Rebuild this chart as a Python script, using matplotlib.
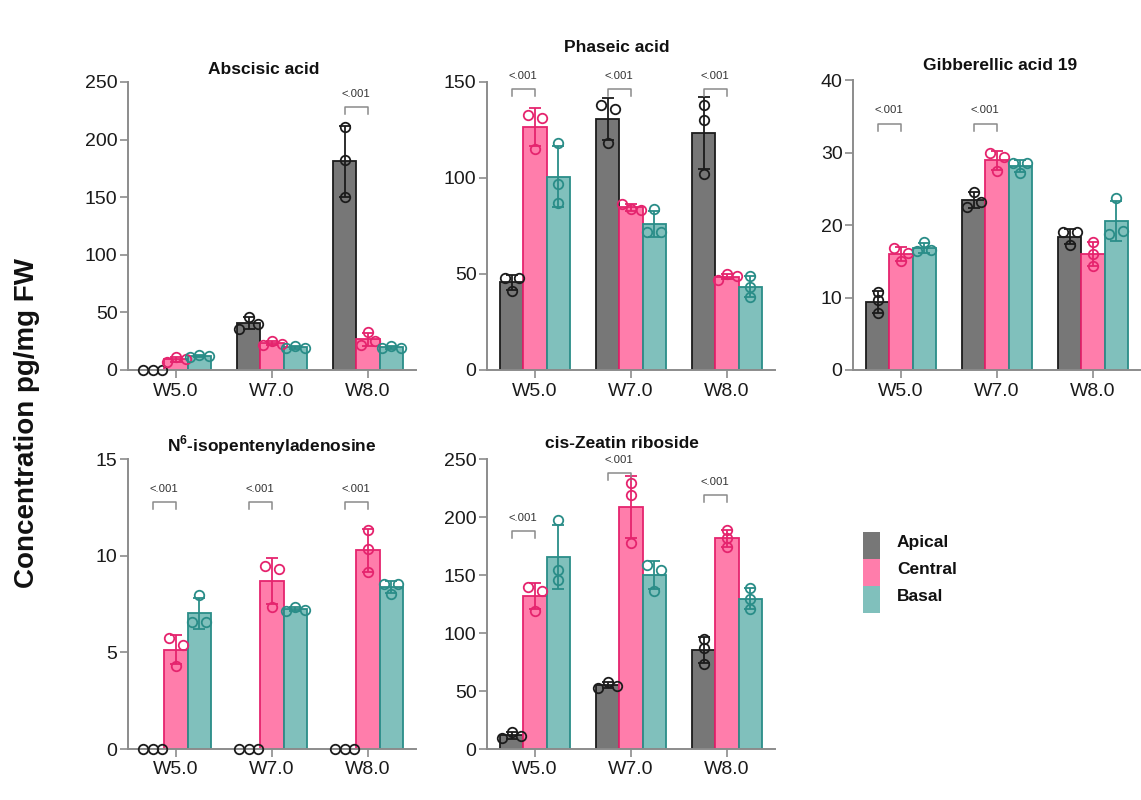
import numpy as np
import matplotlib
matplotlib.use("Agg")
import matplotlib.pyplot as plt
from matplotlib.patches import Rectangle

plt.rcParams["font.family"] = ["Liberation Sans", "DejaVu Sans"]
plt.rcParams["mathtext.fontset"] = "custom"
plt.rcParams["mathtext.rm"] = "Liberation Sans"
plt.rcParams["mathtext.bf"] = "Liberation Sans:bold"

stages = ["W5.0", "W7.0", "W8.0"]
tissues = ["Apical", "Central", "Basal"]

# Replicate concentrations (pg/mg FW): one triplet per stage
aba_apical = [[0, 0, 0], [36, 46, 40], [211, 182, 150]]
aba_central = [[7, 11, 9.5], [22, 25, 23], [22, 33, 25]]
aba_basal = [[11, 13, 12], [19, 21, 19], [19, 21, 19]]

pa_apical = [[48, 41, 48], [138, 118, 136], [138, 130, 102]]
pa_central = [[133, 115, 131], [86.5, 84, 83.5], [47, 50, 49]]
pa_basal = [[118, 97, 87], [72, 84, 72], [49, 43, 38]]

ga19_apical = [[10.8, 9.6, 7.8], [22.5, 24.6, 23.2], [19.0, 17.2, 19.0]]
ga19_central = [[16.8, 15.0, 16.2], [29.9, 27.4, 29.4], [17.7, 16.0, 14.4]]
ga19_basal = [[16.4, 17.6, 16.5], [28.6, 27.2, 28.6], [18.8, 23.7, 19.2]]

ipa_apical = [[0, 0, 0], [0, 0, 0], [0, 0, 0]]
ipa_central = [[5.74, 4.28, 5.4], [9.48, 7.33, 9.3], [11.34, 10.36, 9.14]]
ipa_basal = [[6.55, 7.95, 6.55], [7.15, 7.33, 7.2], [8.55, 8.03, 8.55]]

czr_apical = [[9.5, 14.7, 10.9], [53, 58, 54], [95, 87, 73]]
czr_central = [[140, 119, 136.5], [229, 219, 178], [189, 182, 174]]
czr_basal = [[197, 154, 146], [159, 136.5, 154], [139, 129, 121]]

# Apical vs Central comparisons: (stage index, bracket height)
aba_sig = [(2, 228)]
pa_sig = [(0, 146.5), (1, 146.5), (2, 146.5)]
ga19_sig = [(0, 34), (1, 34)]
ipa_sig = [(0, 12.76), (1, 12.76), (2, 12.76)]
czr_sig = [(0, 188), (1, 238), (2, 219)]
p_text = "<.001"

panels = [
    dict(title="Abscisic acid", data=[aba_apical, aba_central, aba_basal],
         ymax=250, ystep=50, sig=aba_sig),
    dict(title="Phaseic acid", data=[pa_apical, pa_central, pa_basal],
         ymax=150, ystep=50, sig=pa_sig),
    dict(title="Gibberellic acid 19", data=[ga19_apical, ga19_central, ga19_basal],
         ymax=40, ystep=10, sig=ga19_sig),
    dict(title=r"N$^{\mathbf{6}}$-isopentenyladenosine",
         data=[ipa_apical, ipa_central, ipa_basal],
         ymax=15, ystep=5, sig=ipa_sig),
    dict(title="cis-Zeatin riboside", data=[czr_apical, czr_central, czr_basal],
         ymax=250, ystep=50, sig=czr_sig),
]

# ---- layout (figure pixels) ----
W, H = 1141, 800
ax_w = 288
ax_lefts = [128, 487, 853, 128, 487]
ax_bottoms = [370, 370, 370, 749, 749]
ax_heights = [288, 288, 290, 290, 290]
title_x = [0.47, 0.45, 0.51, 0.5, 0.47]
title_dy = [12, 34, 15, 14, 16]

fill_colors = ["#777777", "#ff7dab", "#80c0bc"]
edge_colors = ["#1c1c1c", "#e5246e", "#2a8d88"]
spine_color = "#8c8c8c"
bar_w = 0.243
marker_d = 9.5      # px
cluster_gap = 7.5   # px


def swarm_offsets_px(ax, vals):
    """Spread replicates sideways when they would overlap vertically."""
    ys = ax.transData.transform(np.column_stack([np.zeros(len(vals)), vals]))[:, 1]
    order = np.argsort(ys, kind="stable")
    clusters = [[order[0]]]
    for i in order[1:]:
        if ys[i] - ys[clusters[-1][-1]] < cluster_gap:
            clusters[-1].append(i)
        else:
            clusters.append([i])
    offs = np.zeros(len(vals))
    for c in clusters:
        c = sorted(c)
        n = len(c)
        step = 14.0 if n == 2 else marker_d
        for k, i in enumerate(c):
            offs[i] = (k - (n - 1) / 2) * step
    return offs


fig = plt.figure(figsize=(W / 100, H / 100), dpi=100)

for p, panel in enumerate(panels):
    l = ax_lefts[p]
    b = ax_bottoms[p]
    h = ax_heights[p]
    ax = fig.add_axes([l / W, 1 - b / H, ax_w / W, h / H])
    ax.set_xlim(-0.5, len(stages) - 0.5)
    ax.set_ylim(0, panel["ymax"])
    ax.set_yticks(np.arange(0, panel["ymax"] + 1e-9, panel["ystep"]))
    ax.set_xticks(range(len(stages)))
    ax.set_xticklabels(stages)

    for s in ["top", "right"]:
        ax.spines[s].set_visible(False)
    for s in ["left", "bottom"]:
        ax.spines[s].set_color(spine_color)
        ax.spines[s].set_linewidth(1.4)
    ax.tick_params(axis="both", colors=spine_color, labelcolor="#1a1a1a",
                   labelsize=14, length=5.5, width=1.2)
    ax.tick_params(axis="y", pad=2)

    px_per_x = ax.transData.transform((1, 0))[0] - ax.transData.transform((0, 0))[0]
    px_per_y = ax.transData.transform((0, 1))[1] - ax.transData.transform((0, 0))[1]

    x = np.arange(len(stages))
    for t, reps in enumerate(panel["data"]):
        reps = np.asarray(reps, dtype=float)
        means = reps.mean(axis=1)
        sds = reps.std(axis=1, ddof=1)
        xpos = x + (t - 1) * bar_w
        ax.bar(xpos, means, width=bar_w, color=fill_colors[t],
               edgecolor=edge_colors[t], linewidth=1.3, zorder=2)
        has_err = sds > 0
        ax.errorbar(xpos[has_err], means[has_err], yerr=sds[has_err], fmt="none",
                    ecolor=edge_colors[t], elinewidth=1.3, capsize=4.3,
                    capthick=1.3, zorder=3)
        for g in range(len(stages)):
            offs = swarm_offsets_px(ax, reps[g]) / px_per_x
            ax.plot(xpos[g] + offs, reps[g], "o", ms=marker_d / 1.389,
                    mfc="none", mec=edge_colors[t], mew=1.3, zorder=4,
                    clip_on=False)

    # significance brackets (Apical vs Central)
    leg = 7 / px_per_y
    for g, level in panel["sig"]:
        x0, x1 = g - bar_w, g
        ax.plot([x0, x0, x1, x1], [level - leg, level, level, level - leg],
                color="#8a8a8a", lw=1.1, clip_on=False, zorder=3)
        ax.annotate(p_text, xy=((x0 + x1) / 2, level), xytext=(0, 9.4),
                    textcoords="offset points", ha="center", va="center",
                    fontsize=8.2, color="#333333", annotation_clip=False)

    ax.text(title_x[p], 1 + title_dy[p] / h, panel["title"], transform=ax.transAxes,
            ha="center", va="center", fontsize=12.5, fontweight="bold",
            color="#111111")

fig.text(27 / W, 1 - 423 / H, "Concentration pg/mg FW", rotation=90,
         ha="center", va="center", fontsize=20, fontweight="bold", color="#111111")

# legend: stacked colour swatches with bold labels
sw_x, sw_top, sw_w, sw_h = 863, 532, 17, 27
for t, name in enumerate(tissues):
    top = sw_top + t * sw_h
    fig.add_artist(Rectangle((sw_x / W, 1 - (top + sw_h) / H), sw_w / W, sw_h / H,
                             transform=fig.transFigure, facecolor=fill_colors[t],
                             edgecolor="none"))
    fig.text(897 / W, 1 - (top + sw_h / 2 - 3) / H, name, ha="left", va="center",
             fontsize=12.5, fontweight="bold", color="#111111")

fig.savefig("out.png", dpi=100)
